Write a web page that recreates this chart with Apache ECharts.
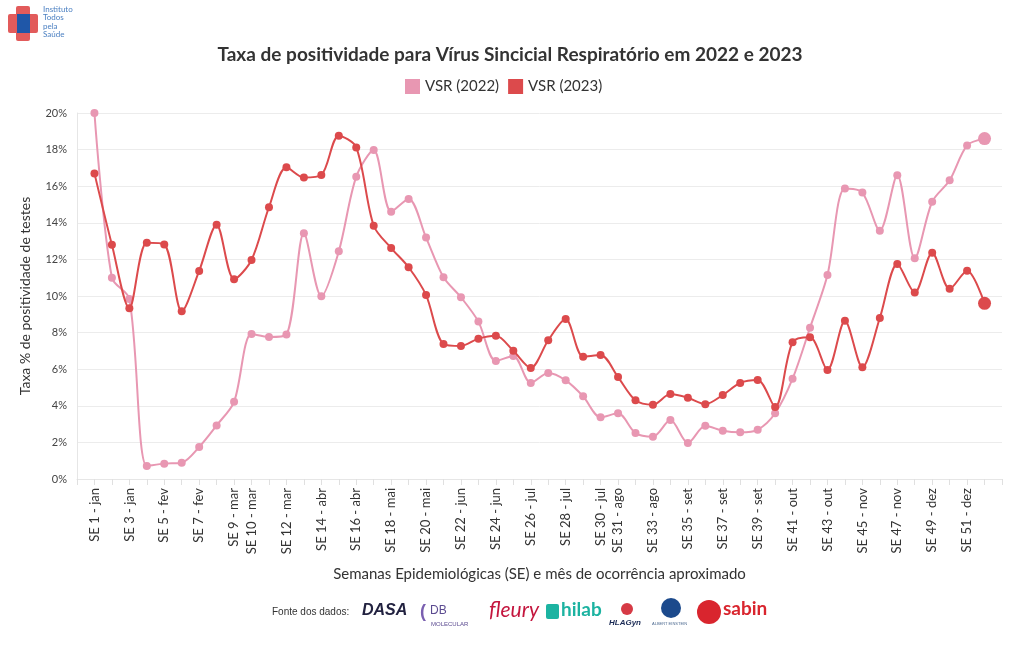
<!DOCTYPE html>
<html>
<head>
<meta charset="utf-8">
<script src="https://cdn.jsdelivr.net/npm/echarts@6/dist/echarts.min.js"></script>
<style>
html,body{margin:0;padding:0;background:#fff;}
#chart{width:1020px;height:650px;}
</style>
</head>
<body>
<div id="chart"></div>
<script>
// ---- data ----
const weekCategories = [
  'SE 1 - jan','SE 2 - jan','SE 3 - jan','SE 4 - jan',
  'SE 5 - fev','SE 6 - fev','SE 7 - fev','SE 8 - fev',
  'SE 9 - mar','SE 10 - mar','SE 11 - mar','SE 12 - mar','SE 13 - mar',
  'SE 14 - abr','SE 15 - abr','SE 16 - abr','SE 17 - abr',
  'SE 18 - mai','SE 19 - mai','SE 20 - mai','SE 21 - mai',
  'SE 22 - jun','SE 23 - jun','SE 24 - jun','SE 25 - jun',
  'SE 26 - jul','SE 27 - jul','SE 28 - jul','SE 29 - jul','SE 30 - jul',
  'SE 31 - ago','SE 32 - ago','SE 33 - ago','SE 34 - ago',
  'SE 35 - set','SE 36 - set','SE 37 - set','SE 38 - set','SE 39 - set',
  'SE 40 - out','SE 41 - out','SE 42 - out','SE 43 - out',
  'SE 44 - nov','SE 45 - nov','SE 46 - nov','SE 47 - nov',
  'SE 48 - dez','SE 49 - dez','SE 50 - dez','SE 51 - dez','SE 52 - dez'
];
const shownLabels = [
  'SE 1 - jan','SE 3 - jan','SE 5 - fev','SE 7 - fev','SE 9 - mar','SE 10 - mar',
  'SE 12 - mar','SE 14 - abr','SE 16 - abr','SE 18 - mai','SE 20 - mai','SE 22 - jun',
  'SE 24 - jun','SE 26 - jul','SE 28 - jul','SE 30 - jul','SE 31 - ago','SE 33 - ago',
  'SE 35 - set','SE 37 - set','SE 39 - set','SE 41 - out','SE 43 - out','SE 45 - nov',
  'SE 47 - nov','SE 49 - dez','SE 51 - dez'
];
const vsr2022 = [
  20.0, 11.0, 9.84, 0.71, 0.84, 0.89, 1.75, 2.93, 4.22, 7.92, 7.76, 7.89, 13.43,
  9.98, 12.44, 16.52, 17.98, 14.61, 15.3, 13.19, 11.02, 9.93, 8.6, 6.45, 6.72,
  5.25, 5.79, 5.39, 4.52, 3.37, 3.59, 2.51, 2.31, 3.22, 1.97, 2.91, 2.64, 2.55,
  2.69, 3.59, 5.48, 8.27, 11.15, 15.88, 15.65, 13.57, 16.6, 12.06, 15.15, 16.32,
  18.23, 18.6
];
const vsr2023 = [
  16.7, 12.8, 9.33, 12.91, 12.82, 9.16, 11.37, 13.9, 10.91, 11.97, 14.85, 17.03,
  16.47, 16.61, 18.76, 18.12, 13.84, 12.62, 11.57, 10.05, 7.38, 7.27, 7.67, 7.83,
  7.01, 6.07, 7.58, 8.74, 6.68, 6.78, 5.57, 4.3, 4.06, 4.64, 4.44, 4.09, 4.59,
  5.25, 5.41, 3.93, 7.47, 7.74, 5.96, 8.65, 6.1, 8.8, 11.75, 10.19, 12.37, 10.39,
  11.38, 9.6
];
const yTicks = [0, 2, 4, 6, 8, 10, 12, 14, 16, 18, 20];
const seriesNames = ['VSR (2022)', 'VSR (2023)'];
const colors = ['#e897b2', '#dc4a4c'];

// padded category axis (one empty slot at each end)
const axisCats = [''].concat(weekCategories, ['']);
const pad = arr => [null].concat(arr, [null]);
const lastIdx = weekCategories.length;

const FONT = 'Lato';
const chart = echarts.init(document.getElementById('chart'), null, {renderer: 'canvas'});

function mkSeries(name, data, color, z) {
  return {
    name: name,
    type: 'line',
    data: pad(data),
    smooth: 0.3,
    clip: false,
    z: z,
    symbol: 'circle',
    symbolSize: (v, p) => p.dataIndex === lastIdx ? 13 : 8,
    lineStyle: {color: color, width: 2},
    itemStyle: {color: color},
    emphasis: {disabled: true},
    connectNulls: false
  };
}

const option = {
  backgroundColor: '#fff',
  animation: false,
  title: {
    text: 'Taxa de positividade para Vírus Sincicial Respiratório em 2022 e 2023',
    left: 'center',
    top: 40,
    textStyle: {fontFamily: FONT, fontSize: 19, fontWeight: 'bold', color: '#333'}
  },
  legend: {
    data: seriesNames,
    top: 74,
    left: 400,
    icon: 'rect',
    itemWidth: 15,
    itemHeight: 15,
    itemGap: 9,
    textStyle: {fontFamily: FONT, fontSize: 15, color: '#333'}
  },
  grid: {left: 77, right: 18, top: 113, bottom: 171, containLabel: false},
  xAxis: {
    type: 'category',
    data: axisCats,
    boundaryGap: false,
    name: 'Semanas Epidemiológicas (SE) e mês de ocorrência aproximado',
    nameLocation: 'middle',
    nameGap: 88,
    nameTextStyle: {fontFamily: FONT, fontSize: 15, color: '#333'},
    axisLine: {show: true, lineStyle: {color: '#e6e6e6'}},
    axisTick: {show: true, interval: 0, length: 6, lineStyle: {color: '#e0e0e0'}},
    axisLabel: {
      rotate: 90,
      margin: 9,
      fontFamily: FONT,
      fontSize: 13,
      color: '#333',
      interval: (idx, val) => shownLabels.indexOf(val) !== -1
    },
    splitLine: {show: false}
  },
  yAxis: {
    type: 'value',
    min: yTicks[0],
    max: yTicks[yTicks.length - 1],
    interval: yTicks[1] - yTicks[0],
    name: 'Taxa % de positividade de testes',
    nameLocation: 'middle',
    nameGap: 45,
    nameRotate: 90,
    nameTextStyle: {fontFamily: FONT, fontSize: 14, color: '#333'},
    axisLine: {show: true, lineStyle: {color: '#e6e6e6'}},
    axisTick: {show: false},
    axisLabel: {fontFamily: FONT, fontSize: 11, color: '#444', margin: 10, formatter: v => v + '%'},
    splitLine: {show: true, lineStyle: {color: '#ececec'}}
  },
  series: [
    mkSeries(seriesNames[0], vsr2022, colors[0], 2),
    mkSeries(seriesNames[1], vsr2023, colors[1], 3)
  ],
  graphic: [
    // logo top-left
    {type: 'rect', shape: {x: 16, y: 6, width: 14, height: 35, r: 2}, style: {fill: '#e25b5b'}},
    {type: 'rect', shape: {x: 8, y: 14, width: 30, height: 19, r: 2}, style: {fill: '#e25b5b'}},
    {type: 'rect', shape: {x: 17, y: 14, width: 13, height: 19}, style: {fill: '#1f57a8'}},
    {type: 'text', left: 43, top: 5, style: {text: 'Instituto\nTodos\npela\nSaúde', fill: '#4a7fc1', font: '8px ' + FONT, lineHeight: 8.5}},
    // footer
    {type: 'text', left: 272, top: 607, style: {text: 'Fonte dos dados:', fill: '#333', font: '10px "Liberation Sans"'}},
    {type: 'text', left: 362, top: 603, style: {text: 'DASA', fill: '#222240', font: 'italic bold 16px "Liberation Sans"'}},
    {type: 'text', left: 420, top: 603, style: {text: '(', fill: '#7a5fb0', font: 'bold 18px "Liberation Sans"'}},
    {type: 'text', left: 430, top: 605, style: {text: 'DB', fill: '#5b4a90', font: '12px "Liberation Sans"'}},
    {type: 'text', left: 431, top: 621, style: {text: 'MOLECULAR', fill: '#5b4a90', font: '6px "Liberation Sans"'}},
    {type: 'text', left: 489, top: 600, style: {text: 'fleury', fill: '#c4163e', font: 'italic 21px ' + FONT}},
    {type: 'rect', shape: {x: 546, y: 604, width: 13, height: 15, r: 2}, style: {fill: '#1cb3a1'}},
    {type: 'text', left: 561, top: 600, style: {text: 'hilab', fill: '#1cb3a1', font: 'bold 19px ' + FONT}},
    {type: 'circle', shape: {cx: 627, cy: 609, r: 6}, style: {fill: '#d63a45'}},
    {type: 'text', left: 609, top: 619, style: {text: 'HLAGyn', fill: '#1a2a55', font: 'italic bold 8px "Liberation Sans"'}},
    {type: 'circle', shape: {cx: 671, cy: 608, r: 10}, style: {fill: '#1c4a8c'}},
    {type: 'text', left: 652, top: 622, style: {text: 'ALBERT EINSTEIN', fill: '#4d6a90', font: '4px "Liberation Sans"'}},
    {type: 'circle', shape: {cx: 709, cy: 612, r: 12}, style: {fill: '#d9252e'}},
    {type: 'text', left: 723, top: 599, style: {text: 'sabin', fill: '#d9252e', font: 'bold 19px ' + FONT}}
  ]
};
chart.setOption(option);
</script>
</body>
</html>
